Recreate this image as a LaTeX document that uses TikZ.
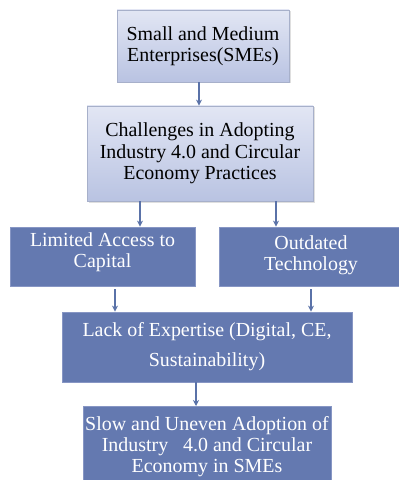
\documentclass[tikz,border=0pt]{standalone}
\usepackage{fontspec}
\setmainfont{Liberation Serif}
\usetikzlibrary{shadows,arrows.meta}
\definecolor{lightTop}{HTML}{E2E6F4}
\definecolor{lightBot}{HTML}{B9C3E2}
\definecolor{lightEdge}{HTML}{A7B0CA}
\definecolor{darkFill}{HTML}{6479B0}
\definecolor{darkEdge}{HTML}{8796C4}
\definecolor{arrowCol}{HTML}{5A72A8}
\tikzset{
  lightbox/.style={draw=lightEdge, line width=0.8bp, top color=lightTop, bottom color=lightBot,
    drop shadow={opacity=0.25, shadow xshift=1.5bp, shadow yshift=-1.5bp},
    align=center, inner sep=0pt, font=\fontsize{20}{21.5}\selectfont, text=black},
  darkbox/.style={draw=darkEdge, line width=0.8bp, fill=darkFill,
    align=center, inner sep=0pt, font=\fontsize{20}{21}\selectfont, text=white},
  arr/.style={draw=arrowCol, line width=1.4bp, -{Stealth[length=6bp,width=6bp]}}
}
\begin{document}
\begin{tikzpicture}[x=1bp,y=-1bp]
\useasboundingbox[fill=white] (0,0) rectangle (398,480);
\node[lightbox, minimum width=172bp, minimum height=72bp] (sme) at (203,46)
  {Small and Medium\\Enterprises(SMEs)};
\node[lightbox, minimum width=226bp, minimum height=95bp] (chal) at (200,153.5)
  {Challenges in Adopting\\Industry 4.0 and Circular\\Economy Practices};
\node[darkbox, minimum width=185bp, minimum height=59bp] (cap) at (102.5,256.5) {};
\node[text=white, align=center, font=\fontsize{20}{21}\selectfont] (captext) at (102.5,252)
  {Limited\ Access to\\Capital};
\node[darkbox, minimum width=184bp, minimum height=59bp] (tech) at (311,256.5) {};
\node[text=white, align=center, font=\fontsize{20}{21}\selectfont] (techtext) at (311,255)
  {Outdated\\Technology};
\node[darkbox, minimum width=290bp, minimum height=70bp, font=\fontsize{20}{30}\selectfont] (exp) at (207,347)
  {Lack of Expertise (Digital, CE,\\Sustainability)};
\node[darkbox, minimum width=248bp, minimum height=80bp, anchor=north] (slow) at (207,406)
  {Slow and Uneven Adoption of\\Industry\ \ \ 4.0 and Circular\\Economy in SMEs};
\draw[arr] (sme.south -| 199,0) -- (chal.north -| 199,0);
\draw[arr] (chal.south -| 140,0) -- (cap.north -| 140,0);
\draw[arr] (chal.south -| 276,0) -- (tech.north -| 276,0);
\draw[arr] ([yshift=-3bp]cap.south -| 115,0) -- (exp.north -| 115,0);
\draw[arr] ([yshift=-3bp]tech.south -| 311,0) -- (exp.north -| 311,0);
\draw[arr] (exp.south -| 196,0) -- (slow.north -| 196,0);
\end{tikzpicture}
\end{document}
